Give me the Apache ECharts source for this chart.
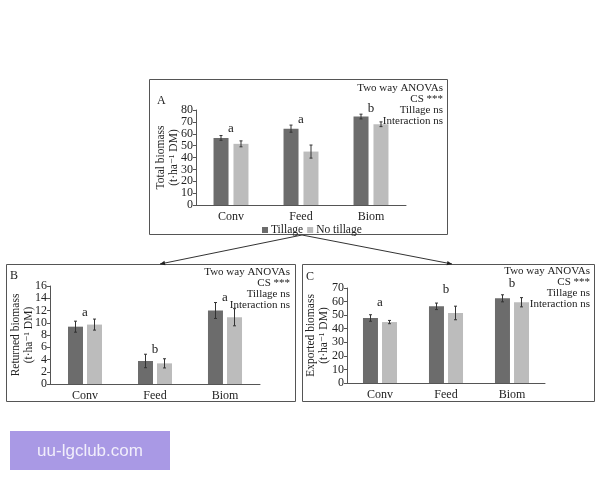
<!DOCTYPE html>
<html><head><meta charset="utf-8">
<script src="https://cdn.jsdelivr.net/npm/echarts@6/dist/echarts.min.js"></script>
<style>html,body{margin:0;padding:0;background:#fff}#c{width:600px;height:480px}</style>
</head><body><div id="c"></div>
<script>
var categories = ['Conv', 'Feed', 'Biom'];
var seriesNames = ['Tillage', 'No tillage'];
// Panel A: Total biomass
var totalTillage = [56.5, 64.3, 74.5];
var totalNoTillage = [51.5, 45, 68];
var totalTillageErr = [2, 3, 2];
var totalNoTillageErr = [2.5, 5.5, 2];
var totalLetters = ['a', 'a', 'b'];
var totalLetterY = [64, 72, 81];
// Panel B: Returned biomass
var retTillage = [9.36, 3.76, 12.0];
var retNoTillage = [9.7, 3.37, 10.9];
var retTillageErr = [0.9, 1.1, 1.3];
var retNoTillageErr = [0.9, 0.75, 1.4];
var retLetters = ['a', 'b', 'a'];
var retLetterY = [11.7, 5.55, 14.15];
// Panel C: Exported biomass
var expTillage = [47.9, 56.5, 62.4];
var expNoTillage = [44.9, 51.6, 59.5];
var expTillageErr = [2.4, 2.4, 2.6];
var expNoTillageErr = [1.2, 5, 3.4];
var expLetters = ['a', 'b', 'b'];
var expLetterY = [59.5, 68.5, 73.5];
// Axis settings
var yMaxA = 80, yIntA = 10;
var yMaxB = 16, yIntB = 2;
var yMaxC = 70, yIntC = 10;
var anovaLines = ['Two way ANOVAs', 'CS ***', 'Tillage ns', 'Interaction ns'];

var FONT = '"Liberation Serif", "DejaVu Serif", serif';
var DARK = '#6c6c6c', LIGHT = '#bcbcbc', AXIS = '#555';

var chart = echarts.init(document.getElementById('c'), null, {renderer: 'canvas'});

function xAxisDef(gi) {
  return {type: 'category', gridIndex: gi, data: categories,
    axisLine: {lineStyle: {color: AXIS}}, axisTick: {show: false},
    axisLabel: {fontFamily: FONT, fontSize: 12, color: '#222', margin: 6}};
}
function yAxisDef(gi, max, interval, name, gap) {
  return {type: 'value', gridIndex: gi, min: 0, max: max, interval: interval,
    name: name, nameLocation: 'middle', nameRotate: 90, nameGap: gap, nameMoveOverlap: false,
    nameTextStyle: {fontFamily: FONT, fontSize: 11.5, color: '#222', lineHeight: 13},
    axisLine: {show: true, lineStyle: {color: AXIS}},
    axisTick: {show: true, length: 3, lineStyle: {color: AXIS}},
    splitLine: {show: false},
    axisLabel: {fontFamily: FONT, fontSize: 12, color: '#222', margin: 3,
      showMinLabel: true, showMaxLabel: true, hideOverlap: false}};
}
function barSeries(gi, name, data, color, bw, gap) {
  return {type: 'bar', name: name, xAxisIndex: gi, yAxisIndex: gi, data: data,
    barWidth: bw, barGap: gap, itemStyle: {color: color}, silent: true};
}
function errSeries(gi, vals, errs, offset) {
  return {type: 'custom', xAxisIndex: gi, yAxisIndex: gi, silent: true, z: 5,
    data: vals.map(function (v, i) { return [i, v, errs[i]]; }),
    encode: {x: 0, y: 1},
    renderItem: function (params, api) {
      var hi = api.coord([api.value(0), api.value(1) + api.value(2)]);
      var lo = api.coord([api.value(0), api.value(1) - api.value(2)]);
      var x = hi[0] + offset;
      var st = {stroke: '#333', lineWidth: 1};
      return {type: 'group', children: [
        {type: 'line', shape: {x1: x, y1: hi[1], x2: x, y2: lo[1]}, style: st},
        {type: 'line', shape: {x1: x - 1.5, y1: hi[1], x2: x + 1.5, y2: hi[1]}, style: st},
        {type: 'line', shape: {x1: x - 1.5, y1: lo[1], x2: x + 1.5, y2: lo[1]}, style: st}
      ]};
    }};
}
function letterSeries(gi, letters, ys) {
  return {type: 'custom', xAxisIndex: gi, yAxisIndex: gi, silent: true, clip: false, z: 6,
    data: ys.map(function (v, i) { return [i, v]; }),
    encode: {x: 0, y: 1},
    renderItem: function (params, api) {
      var p = api.coord([api.value(0), api.value(1)]);
      return {type: 'text', style: {text: letters[params.dataIndex], x: p[0], y: p[1],
        align: 'center', verticalAlign: 'middle', font: '13px ' + FONT, fill: '#222'}};
    }};
}
function anovaText(xRight, yTop, step) {
  return anovaLines.map(function (t, i) {
    return {type: 'text', style: {text: t, x: xRight, y: yTop + i * step, align: 'right',
      verticalAlign: 'middle', font: '11px ' + FONT, fill: '#222'}};
  });
}
function arrowHead(x1, y1, x2, y2) {
  var a = Math.atan2(y2 - y1, x2 - x1), L = 5, w = 2.2;
  var bx = x2 - L * Math.cos(a), by = y2 - L * Math.sin(a);
  return {type: 'polygon', shape: {points: [[x2, y2],
    [bx + w * Math.sin(a), by - w * Math.cos(a)], [bx - w * Math.sin(a), by + w * Math.cos(a)]]},
    style: {fill: '#222'}};
}

var graphics = [
  {type: 'rect', shape: {x: 149.5, y: 79.5, width: 298, height: 155}, style: {fill: 'none', stroke: '#555', lineWidth: 1}},
  {type: 'rect', shape: {x: 6.5, y: 264.5, width: 289, height: 137}, style: {fill: 'none', stroke: '#555', lineWidth: 1}},
  {type: 'rect', shape: {x: 302.5, y: 264.5, width: 292, height: 137}, style: {fill: 'none', stroke: '#555', lineWidth: 1}},
  {type: 'line', shape: {x1: 302, y1: 235, x2: 160, y2: 264}, style: {stroke: '#333', lineWidth: 1}},
  {type: 'line', shape: {x1: 302, y1: 235, x2: 452, y2: 264}, style: {stroke: '#333', lineWidth: 1}},
  arrowHead(302, 235, 160, 264),
  arrowHead(302, 235, 452, 264),
  {type: 'text', style: {text: 'A', x: 157, y: 101, verticalAlign: 'middle', font: '12px ' + FONT, fill: '#222'}},
  {type: 'text', style: {text: 'B', x: 10, y: 276, verticalAlign: 'middle', font: '12px ' + FONT, fill: '#222'}},
  {type: 'text', style: {text: 'C', x: 306, y: 277, verticalAlign: 'middle', font: '12px ' + FONT, fill: '#222'}},
  {type: 'rect', shape: {x: 10, y: 431, width: 160, height: 39}, style: {fill: '#a999e5'}},
  {type: 'text', style: {text: 'uu-lgclub.com', x: 90, y: 451, align: 'center', verticalAlign: 'middle',
    font: '17px "Liberation Sans", "DejaVu Sans", sans-serif', fill: '#f1eefb'}}
].concat(anovaText(443, 88, 11)).concat(anovaText(290, 272, 11)).concat(anovaText(590, 271, 11));

var option = {
  backgroundColor: '#fff',
  animation: false,
  grid: [
    {left: 196, top: 110, width: 210, height: 95},
    {left: 50, top: 286, width: 210, height: 98},
    {left: 347, top: 288, width: 198, height: 95}
  ],
  legend: {data: seriesNames, left: 257, top: 219, itemWidth: 6, itemHeight: 6, itemGap: 4,
    icon: 'rect', textStyle: {fontFamily: FONT, fontSize: 11.5, color: '#222', padding: [0, 0, 0, -2]}},
  xAxis: [xAxisDef(0), xAxisDef(1), xAxisDef(2)],
  yAxis: [
    yAxisDef(0, yMaxA, yIntA, 'Total biomass\n(t·ha⁻¹ DM)', 16),
    yAxisDef(1, yMaxB, yIntB, 'Returned biomass\n(t·ha⁻¹ DM)', 15),
    yAxisDef(2, yMaxC, yIntC, 'Exported biomass\n(t·ha⁻¹ DM)', 17)
  ],
  series: [
    barSeries(0, 'Tillage', totalTillage, DARK, 15, '33%'),
    barSeries(0, 'No tillage', totalNoTillage, LIGHT, 15, '33%'),
    barSeries(1, 'Tillage', retTillage, DARK, 15, '27%'),
    barSeries(1, 'No tillage', retNoTillage, LIGHT, 15, '27%'),
    barSeries(2, 'Tillage', expTillage, DARK, 15, '27%'),
    barSeries(2, 'No tillage', expNoTillage, LIGHT, 15, '27%'),
    errSeries(0, totalTillage, totalTillageErr, -10),
    errSeries(0, totalNoTillage, totalNoTillageErr, 10),
    errSeries(1, retTillage, retTillageErr, -9.5),
    errSeries(1, retNoTillage, retNoTillageErr, 9.5),
    errSeries(2, expTillage, expTillageErr, -9.5),
    errSeries(2, expNoTillage, expNoTillageErr, 9.5),
    letterSeries(0, totalLetters, totalLetterY),
    letterSeries(1, retLetters, retLetterY),
    letterSeries(2, expLetters, expLetterY)
  ],
  graphic: graphics
};
chart.setOption(option);
</script></body></html>
